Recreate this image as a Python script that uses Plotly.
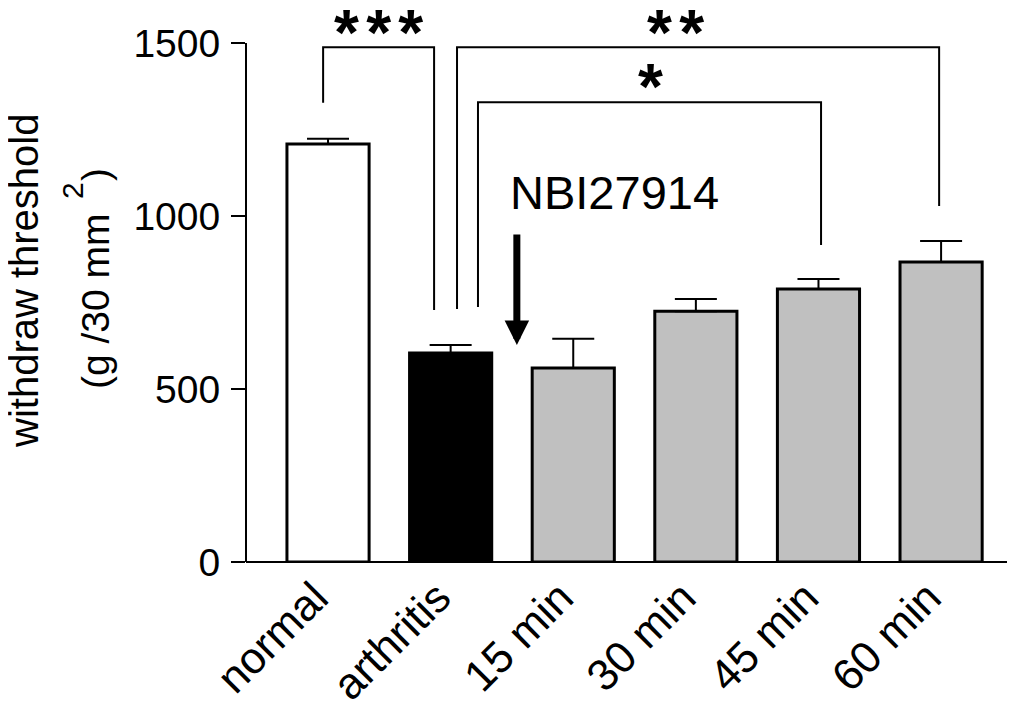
import plotly.graph_objects as go

categories = ["normal", "arthritis", "15 min", "30 min", "45 min", "60 min"]
means = [1208, 604, 561, 725, 789, 867]
sems = [15, 23, 84, 35, 29, 61]
fill_colors = ["#ffffff", "#000000", "#c0c0c0", "#c0c0c0", "#c0c0c0", "#c0c0c0"]
y_tickvals = [0, 500, 1000, 1500]
y_ticktext = ["0", "500", "1000", "1500"]

# significance brackets: left x, right x, top y, left-leg bottom, right-leg bottom
brackets = [
    (-0.04, 0.865, 1488, 1327, 728),
    (1.052, 4.984, 1488, 731, 1029),
    (1.223, 4.021, 1329, 737, 916),
]
star_labels = ["***", "**", "*"]
star_x = [0.41, 2.83, 2.63]
star_y = [1530, 1530, 1372]

FONT = "Liberation Sans, Arial, sans-serif"
# the page body has an 8px margin, so the figure is 8px smaller than the window
OFF = 8
W, H = 1015 - OFF, 704 - OFF
ML, MR, MT, MB = 246 - OFF, 5, 0, 142
PLOT_H = H - MT - MB
YMAX = PLOT_H / (519 / 1500)

fig = go.Figure()
fig.add_trace(go.Bar(
    x=categories, y=means,
    marker=dict(color=fill_colors, line=dict(color="black", width=3)),
    width=0.67,
    error_y=dict(type="data", symmetric=False, array=sems,
                 arrayminus=[0] * len(sems), color="black", thickness=2, width=21),
    showlegend=False,
))

shapes = []
for (x0, x1, ytop, yl, yr) in brackets:
    shapes.append(dict(type="path", xref="x", yref="y",
                       path=f"M {x0},{yl} L {x0},{ytop} L {x1},{ytop} L {x1},{yr}",
                       line=dict(color="black", width=2)))
# y axis line from 0 to 1500 only
shapes.append(dict(type="line", xref="paper", yref="paper", x0=0, x1=0,
                   y0=0, y1=y_tickvals[-1] / YMAX, line=dict(color="black", width=2)))
shapes.append(dict(type="line", xref="paper", yref="paper", x0=0, x1=1,
                   y0=0, y1=0, line=dict(color="black", width=2)))

ann = []
for lab, sx, sy in zip(star_labels, star_x, star_y):
    txt = "<span style='font-size:26px'> </span>".join(list(lab))
    ann.append(dict(x=sx, y=sy, xref="x", yref="y", text=txt, showarrow=False,
                    font=dict(family=FONT, size=64, color="black", weight="bold"),
                    xanchor="center", yanchor="middle"))

ann.append(dict(x=2.333, y=1067, xref="x", yref="y", text="NBI27914", showarrow=False,
                font=dict(family=FONT, size=47, color="black"),
                xanchor="center", yanchor="middle"))
ann.append(dict(x=1.54, y=627, xref="x", yref="y", text="", showarrow=True,
                ax=0, ay=-112, axref="pixel", ayref="pixel",
                arrowhead=2, arrowwidth=7, arrowsize=0.7, arrowcolor="black"))

def px_x(px):
    # screen pixel -> paper x
    return (px - OFF - ML) / (W - ML - MR)

def px_y(py):
    return (H - MB - (py - OFF)) / PLOT_H

ann.append(dict(x=px_x(24), y=px_y(281), xref="paper", yref="paper",
                text="withdraw threshold", textangle=-90, showarrow=False,
                font=dict(family=FONT, size=40, color="black"),
                xanchor="center", yanchor="middle"))
ann.append(dict(x=px_x(95), y=px_y(279), xref="paper", yref="paper",
                text="(g /30 mm\u00a0\u00a0\u00a0)", textangle=-90, showarrow=False,
                font=dict(family=FONT, size=39, color="black"),
                xanchor="center", yanchor="middle"))
ann.append(dict(x=px_x(72), y=px_y(191), xref="paper", yref="paper",
                text="2", textangle=-90, showarrow=False,
                font=dict(family=FONT, size=30, color="black"),
                xanchor="center", yanchor="middle"))

fig.update_layout(
    width=W, height=H,
    margin=dict(l=ML, r=MR, t=MT, b=MB, pad=0, autoexpand=False),
    plot_bgcolor="white", paper_bgcolor="white",
    font=dict(family=FONT, size=40, color="black"),
    shapes=shapes, annotations=ann,
)
fig.update_xaxes(range=[-0.669, 5.562], showline=False, ticks="", showgrid=False,
                 zeroline=False, tickangle=-45, automargin=False,
                 ticklabelshift=-13,
                 tickfont=dict(size=44, family=FONT))
fig.update_yaxes(range=[0, YMAX], showline=False, showgrid=False, zeroline=False,
                 tickmode="array", tickvals=y_tickvals, ticktext=y_ticktext,
                 ticks="outside", ticklen=14, tickwidth=2, tickcolor="black",
                 ticklabelstandoff=3,
                 automargin=False, tickfont=dict(size=39, family=FONT))

fig.write_html("out.html")
